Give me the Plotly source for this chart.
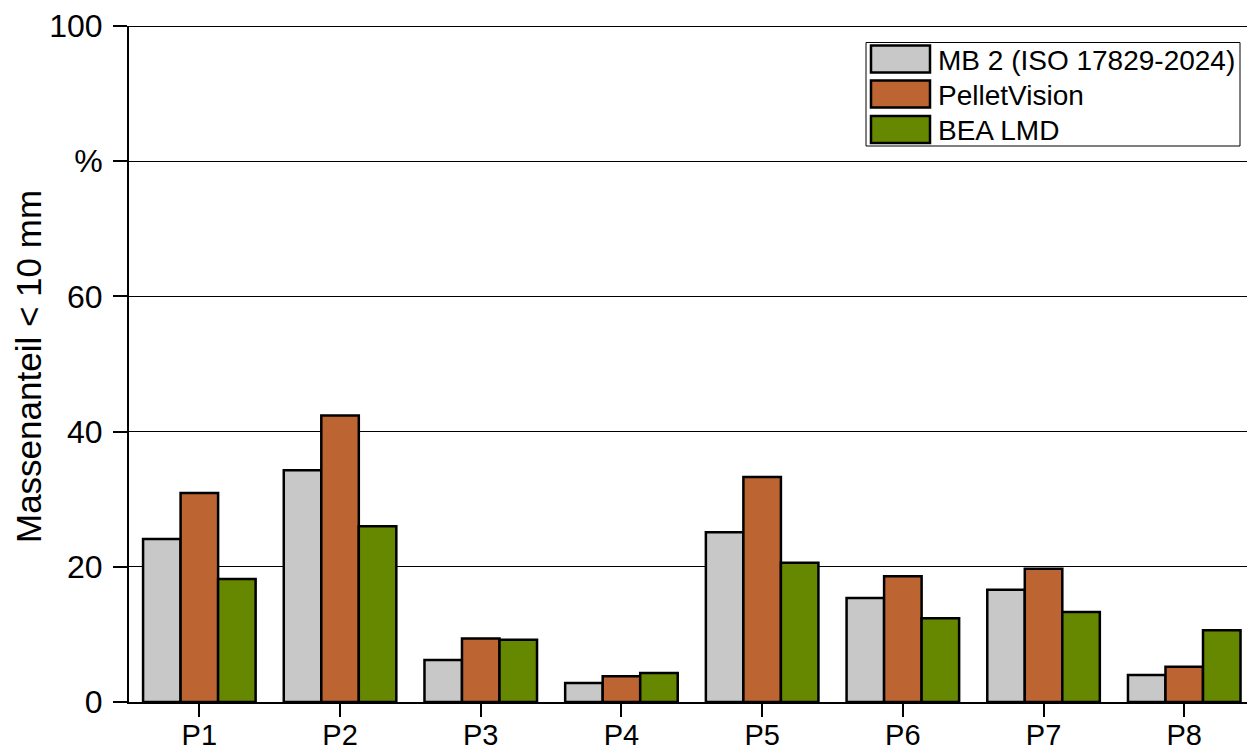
import plotly.graph_objects as go

# Proben und Messwerte (Massenanteil < 10 mm in %)
categories = ["P1", "P2", "P3", "P4", "P5", "P6", "P7", "P8"]
series_names = ["MB 2 (ISO 17829-2024)", "PelletVision", "BEA LMD"]
mb2_values = [24.1, 34.3, 6.2, 2.8, 25.1, 15.4, 16.6, 4.0]
pelletvision_values = [30.9, 42.4, 9.4, 3.8, 33.3, 18.6, 19.7, 5.2]
bea_lmd_values = [18.2, 26.0, 9.2, 4.3, 20.6, 12.4, 13.3, 10.6]
y_tick_values = [0, 20, 40, 60, 80, 100]
y_tick_labels = ["0", "20", "40", "60", "%", "100"]

colors = ["#C8C8C8", "#BC6432", "#668800"]
font_family = "Liberation Sans, Arial, sans-serif"

W, H = 1247, 751
ML, MR, MT, MB = 129, 0, 26, 49
plot_w = W - ML - MR
plot_h = H - MT - MB


def px_x(px):
    return (px - ML) / plot_w


def px_y(py):
    return (H - MB - py) / plot_h


fig = go.Figure()
for name, vals, col in zip(series_names,
                           [mb2_values, pelletvision_values, bea_lmd_values],
                           colors):
    fig.add_trace(go.Bar(
        x=categories, y=vals, name=name,
        marker=dict(color=col, line=dict(color="black", width=2.5)),
        showlegend=False,
    ))

# custom legend box with large swatches
shapes = []
annotations = []
shapes.append(dict(type="rect", xref="paper", yref="paper",
                   x0=px_x(866), x1=px_x(1240), y0=px_y(146), y1=px_y(42.5),
                   line=dict(color="black", width=1), fillcolor="white", layer="above"))
row_centers = [59, 94, 129.5]
for name, col, cy in zip(series_names, colors, row_centers):
    shapes.append(dict(type="rect", xref="paper", yref="paper",
                       x0=px_x(871), x1=px_x(930), y0=px_y(cy + 13.5), y1=px_y(cy - 13.5),
                       line=dict(color="black", width=2.5), fillcolor=col, layer="above"))
    annotations.append(dict(xref="paper", yref="paper", x=px_x(936), y=px_y(cy + 1),
                            text=name, showarrow=False, xanchor="left", yanchor="middle",
                            font=dict(family=font_family, size=28, color="black")))

# y-axis title
annotations.append(dict(xref="paper", yref="paper", x=px_x(28), y=px_y(367),
                        text="Massenanteil < 10 mm", showarrow=False, textangle=-90,
                        xanchor="center", yanchor="middle",
                        font=dict(family=font_family, size=35, color="black")))

# top border at 100
shapes.append(dict(type="line", xref="paper", yref="y", x0=0, x1=1, y0=100, y1=100,
                   line=dict(color="black", width=2), layer="above"))

fig.update_layout(
    width=W, height=H,
    margin=dict(l=ML, r=MR, t=MT, b=MB, pad=0, autoexpand=False),
    paper_bgcolor="white", plot_bgcolor="white",
    barmode="group", bargap=0.2, bargroupgap=0,
    font=dict(family=font_family, size=32, color="black"),
    shapes=shapes, annotations=annotations,
    showlegend=False,
)

fig.update_xaxes(
    range=[-0.5, -0.5 + plot_w / 140.7], automargin=False,
    showline=True, linecolor="black", linewidth=2,
    ticks="outside", ticklen=13, tickwidth=2, tickcolor="black",
    tickfont=dict(size=29), ticklabelstandoff=-7,
    showgrid=False, zeroline=False,
)
fig.update_yaxes(
    range=[0, 100], automargin=False,
    tickvals=y_tick_values, ticktext=y_tick_labels,
    showline=True, linecolor="black", linewidth=2,
    ticks="outside", ticklen=14, tickwidth=2, tickcolor="black",
    tickfont=dict(size=32), ticklabelstandoff=4,
    showgrid=True, gridcolor="black", gridwidth=1, zeroline=False,
)

fig.write_html("out.html")
